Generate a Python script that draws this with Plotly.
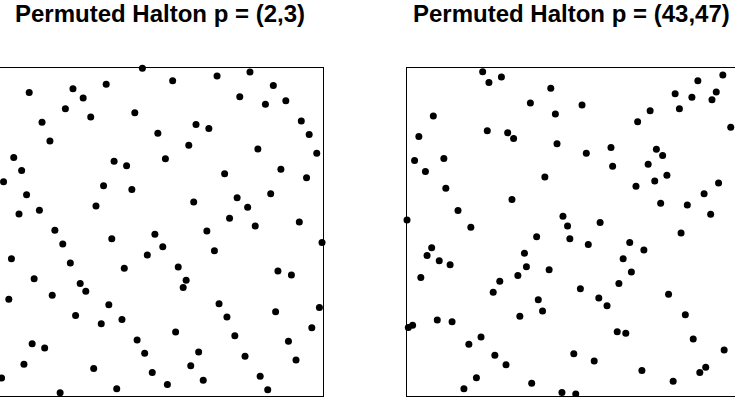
import plotly.graph_objects as go

# Left panel: Permuted Halton p = (2,3)
halton23_x = [0.451, 0.107, 0.240, 0.341, 0.271, 0.217, 0.294, 0.428, 0.146, 0.018,
              0.170, 0.498, 0.060, 0.084, 0.365, 0.403, 0.521, 0.029, 0.333, 0.419,
              0.099, 0.310, 0.076, 0.138, 0.185,
              0.543, 0.678, 0.778, 0.849, 0.747, 0.825, 0.887, 0.934, 0.958, 0.981,
              0.614, 0.653, 0.592, 0.802, 0.701, 0.872, 0.950, 0.607, 0.739, 0.771,
              0.841, 0.716, 0.794, 0.928, 0.647,
              0.209, 0.358, 0.489, 0.513, 0.466, 0.053, 0.232, 0.396, 0.122, 0.262,
              0.279, 0.177, 0.045, 0.349, 0.248, 0.326, 0.389, 0.435, 0.458, 0.116,
              0.154, 0.091, 0.303, 0.481, 0.023, 0.201, 0.373, 0.527,
              0.670, 0.997, 0.560, 0.584, 0.575, 0.863, 0.904, 0.684, 0.708, 0.856,
              0.989, 0.552, 0.966, 0.732, 0.895, 0.622, 0.763, 0.918, 0.598, 0.636,
              0.809, 0.832]
halton23_y = [0.998, 0.924, 0.935, 0.949, 0.907, 0.874, 0.849, 0.862, 0.833, 0.788,
              0.776, 0.800, 0.726, 0.686, 0.714, 0.701, 0.722, 0.652, 0.640, 0.628,
              0.612, 0.578, 0.554, 0.565, 0.504,
              0.960, 0.974, 0.986, 0.945, 0.911, 0.888, 0.899, 0.837, 0.796, 0.739,
              0.826, 0.814, 0.763, 0.752, 0.676, 0.690, 0.664, 0.590, 0.603, 0.574,
              0.615, 0.541, 0.517, 0.529, 0.502,
              0.462, 0.478, 0.492, 0.454, 0.429, 0.417, 0.404, 0.388, 0.356, 0.342,
              0.318, 0.306, 0.294, 0.277, 0.244, 0.219, 0.232, 0.170, 0.129, 0.158,
              0.145, 0.096, 0.083, 0.071, 0.054, 0.009, 0.021, 0.034,
              0.442, 0.467, 0.392, 0.352, 0.330, 0.380, 0.368, 0.280, 0.240, 0.256,
              0.269, 0.194, 0.207, 0.183, 0.166, 0.133, 0.120, 0.109, 0.091, 0.047,
              0.059, 0.018]

# Right panel: Permuted Halton p = (43,47)
halton4347_x = [0.230, 0.249, 0.287, 0.437, 0.375, 0.451, 0.080, 0.036, 0.244, 0.306,
                0.324, 0.456, 0.023, 0.112, 0.056, 0.419, 0.118, 0.319, 0.155, 0.000,
                0.474, 0.194,
                0.960, 0.884, 0.815, 0.866, 0.940, 0.927, 0.532, 0.739, 0.828, 0.701,
                0.984, 0.545, 0.620, 0.625, 0.758, 0.777, 0.733, 0.790, 0.753, 0.696,
                0.947, 0.903, 0.771, 0.852, 0.923, 0.488, 0.587,
                0.394, 0.075, 0.061, 0.098, 0.131, 0.357, 0.363, 0.432, 0.337, 0.042,
                0.282, 0.262, 0.399, 0.412, 0.343, 0.004, 0.017, 0.092, 0.137, 0.225,
                0.188, 0.267, 0.301, 0.211, 0.173, 0.379, 0.471,
                0.833, 0.495, 0.551, 0.677, 0.720, 0.657, 0.682, 0.644, 0.527, 0.795,
                0.583, 0.608, 0.846, 0.639, 0.665, 0.870, 0.964, 0.507, 0.569, 0.714,
                0.908, 0.890, 0.809, 0.513]
halton4347_y = [0.987, 0.954, 0.971, 0.937, 0.892, 0.858, 0.852, 0.790, 0.807, 0.801,
                0.784, 0.768, 0.717, 0.723, 0.683, 0.666, 0.632, 0.598, 0.564, 0.535,
                0.547, 0.513,
                0.977, 0.960, 0.920, 0.909, 0.925, 0.902, 0.886, 0.868, 0.874, 0.835,
                0.818, 0.739, 0.756, 0.699, 0.751, 0.732, 0.705, 0.672, 0.654, 0.638,
                0.648, 0.615, 0.586, 0.581, 0.553, 0.517, 0.528,
                0.484, 0.451, 0.427, 0.411, 0.399, 0.434, 0.393, 0.384, 0.366, 0.360,
                0.349, 0.315, 0.292, 0.258, 0.242, 0.208, 0.215, 0.231, 0.225, 0.179,
                0.157, 0.123, 0.094, 0.055, 0.021, 0.038, 0.010,
                0.496, 0.478, 0.461, 0.467, 0.444, 0.417, 0.377, 0.342, 0.326, 0.309,
                0.298, 0.274, 0.247, 0.195, 0.190, 0.173, 0.139, 0.128, 0.106, 0.077,
                0.087, 0.071, 0.044, 0.005]

titles = ["Permuted Halton p = (2,3)", "Permuted Halton p = (43,47)"]

W, H = 735, 397
fig = go.Figure()
marker = dict(color="black", size=7, line=dict(width=0))
fig.add_trace(go.Scatter(x=halton23_x, y=halton23_y, mode="markers", marker=marker,
                         xaxis="x", yaxis="y", cliponaxis=False, showlegend=False,
                         hoverinfo="skip"))
fig.add_trace(go.Scatter(x=halton4347_x, y=halton4347_y, mode="markers", marker=marker,
                         xaxis="x2", yaxis="y2", cliponaxis=False, showlegend=False,
                         hoverinfo="skip"))

ybot = (H - 395.7) / H
ytop = (H - 67.5) / H
ax_common = dict(showgrid=False, zeroline=False, showticklabels=False, ticks="",
                 linecolor="black", linewidth=1)
title_font = dict(family="Liberation Sans, Arial, sans-serif", size=24, color="black")
fig.update_layout(
    width=W, height=H,
    margin=dict(l=0, r=0, t=0, b=0),
    paper_bgcolor="white", plot_bgcolor="white",
    xaxis=dict(domain=[0, 323 / W], range=[1 - 323 / 329, 1], showline=True, mirror=True,
               anchor="y", **ax_common),
    yaxis=dict(domain=[ybot, ytop], range=[0, 1], showline=True, mirror=False, side="right",
               anchor="x", **ax_common),
    xaxis2=dict(domain=[407 / W, 1], range=[0, 328 / 329], showline=True, mirror=True,
                anchor="y2", **ax_common),
    yaxis2=dict(domain=[ybot, ytop], range=[0, 1], showline=True, mirror=False, side="left",
                anchor="x2", **ax_common),
    annotations=[
        dict(text="<b>%s</b>" % titles[0], x=159.5 / W, y=1 + 2 / H, xref="paper", yref="paper",
             xanchor="center", yanchor="top", showarrow=False, font=title_font),
        dict(text="<b>%s</b>" % titles[1], x=571 / W, y=1 + 2 / H, xref="paper", yref="paper",
             xanchor="center", yanchor="top", showarrow=False, font=title_font),
    ],
)
fig.write_html("out.html", config={"displayModeBar": False},
               post_script="document.body.style.margin='0px';document.body.style.overflow='hidden';")
